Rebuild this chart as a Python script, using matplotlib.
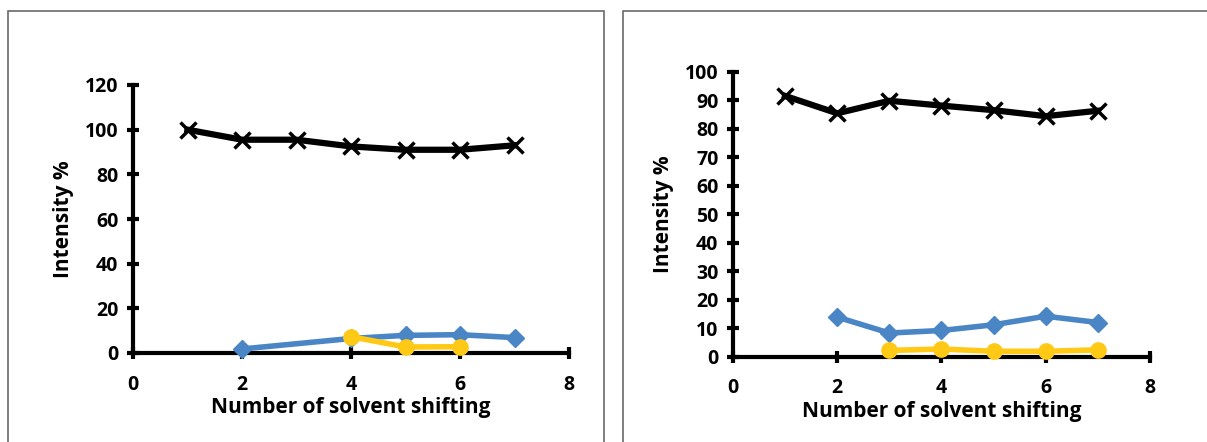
import matplotlib
matplotlib.use("Agg")
from matplotlib import pyplot as plt
from matplotlib.patches import Rectangle

plt.rcParams['font.family'] = ['Open Sans', 'DejaVu Sans']
plt.rcParams['font.weight'] = 'bold'

# Left chart data
x_left_black = [1, 2, 3, 4, 5, 6, 7]
y_left_black = [100, 95.5, 95.5, 92.5, 91, 91, 93]
x_left_blue = [2, 4, 5, 6, 7]
y_left_blue = [1.8, 6.5, 7.9, 8.2, 6.9]
x_left_yellow = [4, 5, 6]
y_left_yellow = [7.3, 2.7, 2.8]

# Right chart data
x_right_black = [1, 2, 3, 4, 5, 6, 7]
y_right_black = [91.5, 85.4, 89.8, 88.1, 86.5, 84.4, 86.3]
x_right_blue = [2, 3, 4, 5, 6, 7]
y_right_blue = [13.9, 8.3, 9.2, 11.2, 14.2, 12.0]
x_right_yellow = [3, 4, 5, 6, 7]
y_right_yellow = [2.2, 2.7, 1.9, 1.9, 2.4]

x_ticks = [0, 2, 4, 6, 8]
left_y_ticks = [0, 20, 40, 60, 80, 100, 120]
right_y_ticks = list(range(0, 101, 10))

blue = "#4a86c6"
yellow = "#ffc916"

W, H = 1207, 442
fig = plt.figure(figsize=(W / 100, H / 100), dpi=100)

# panel borders
fig.patches.append(Rectangle((8 / W, -0.1), (604 - 8) / W, 1.1 - 11 / H,
                             transform=fig.transFigure, fill=False,
                             edgecolor="#6a6a6a", linewidth=1.2))
fig.patches.append(Rectangle((623 / W, -0.1), 0.5, 1.1 - 11 / H,
                             transform=fig.transFigure, fill=False,
                             edgecolor="#6a6a6a", linewidth=1.2))


def make_axes(rect, yticks, ymax, bx, by, kx, ky, yx, yy):
    ax = fig.add_axes(rect)
    ax.plot(kx, ky, color="black", lw=4.5, marker="x", ms=12, mew=2.5, zorder=3)
    ax.plot(bx, by, color=blue, lw=4, marker="D", ms=9, zorder=4)
    ax.plot(yx, yy, color=yellow, lw=4, marker="o", ms=11, zorder=5)
    ax.set_xlim(0, 8)
    ax.set_ylim(0, ymax)
    ax.set_xticks(x_ticks)
    ax.set_yticks(yticks)
    for s in ["top", "right"]:
        ax.spines[s].set_visible(False)
    for s in ["left", "bottom"]:
        ax.spines[s].set_linewidth(3)
    ax.tick_params(direction="inout", length=9, width=3, labelsize=14)
    ax.tick_params(axis="x", pad=11)
    ax.tick_params(axis="y", pad=6)
    for lab in ax.get_xticklabels() + ax.get_yticklabels():
        lab.set_fontweight("bold")
    ax.set_xlabel("Number of solvent shifting", fontsize=15, fontweight="bold", labelpad=2)
    ax.set_ylabel("Intensity %", fontsize=15, fontweight="bold", labelpad=8)
    for line in ax.lines:
        line.set_clip_on(False)
    return ax


make_axes([133 / W, 1 - 353 / H, (569 - 133) / W, (353 - 85) / H],
          left_y_ticks, 120,
          x_left_blue, y_left_blue, x_left_black, y_left_black,
          x_left_yellow, y_left_yellow)
make_axes([733 / W, 1 - 356.7 / H, (1150 - 733) / W, (356.7 - 71.7) / H],
          right_y_ticks, 100,
          x_right_blue, y_right_blue, x_right_black, y_right_black,
          x_right_yellow, y_right_yellow)

fig.savefig("out.png", dpi=100)
